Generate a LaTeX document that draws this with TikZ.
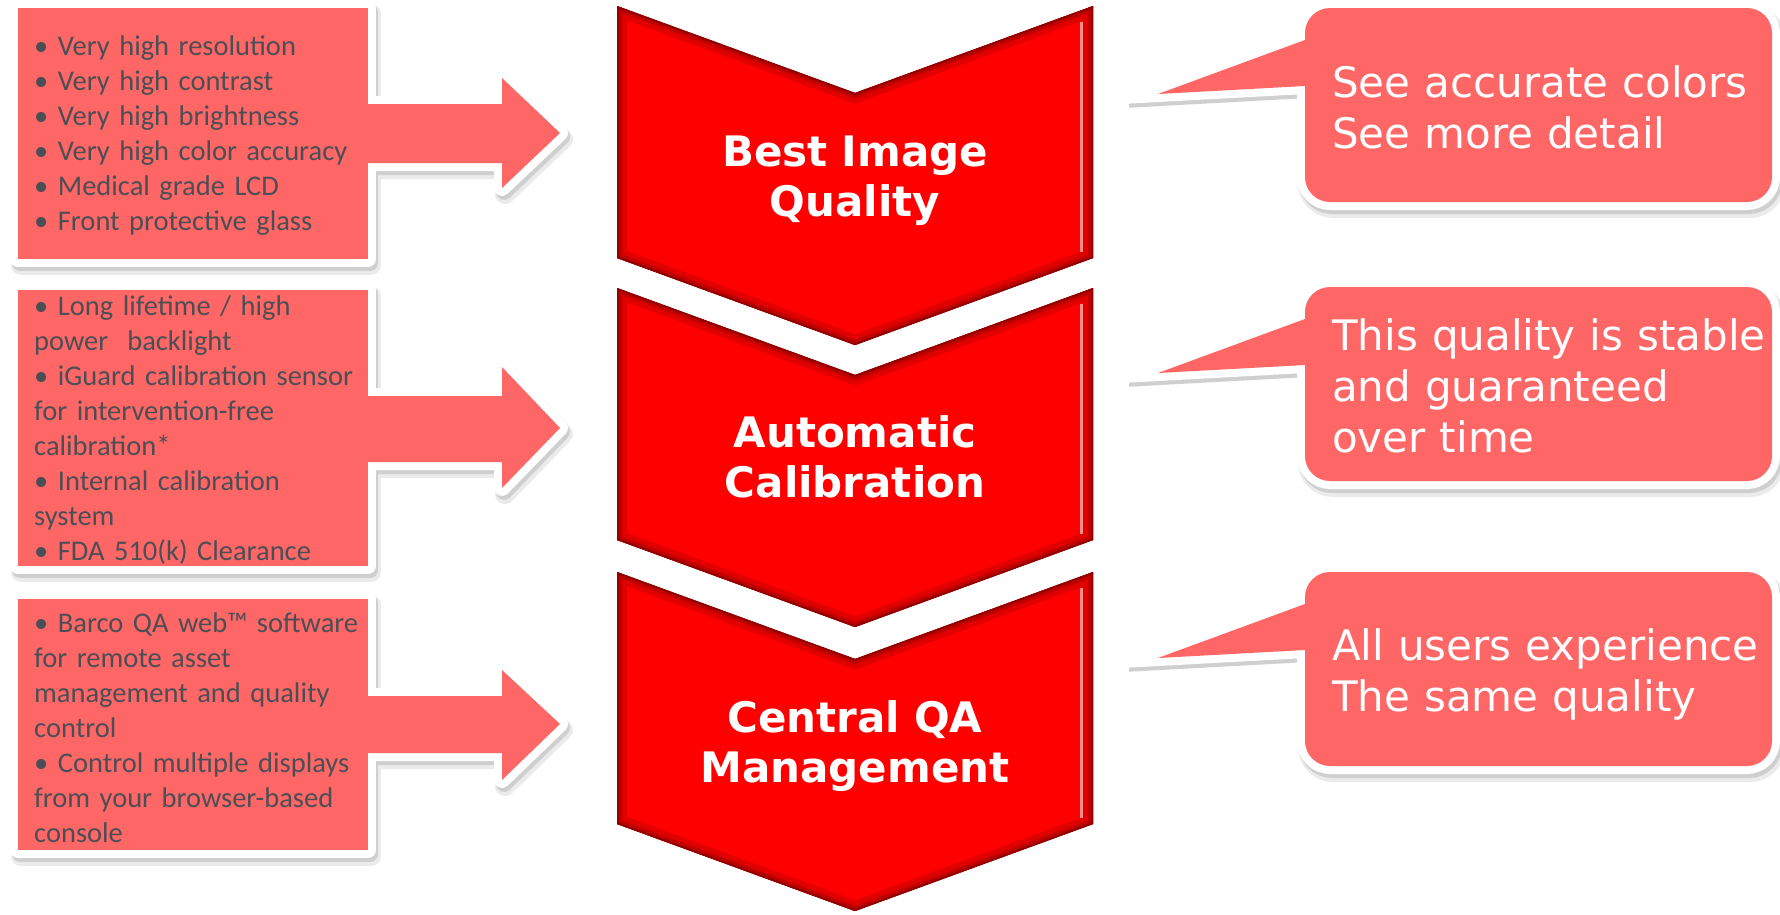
\documentclass[tikz,border=0pt]{standalone}
\usepackage{fontspec}
\setmainfont{DejaVu Sans}
\newfontfamily\calfont{Carlito}
\newfontfamily\dvfont{DejaVu Sans}
\definecolor{callred}{HTML}{FF6666}
\definecolor{chevred}{HTML}{FF0000}
\definecolor{txtgray}{HTML}{4B4F55}
\definecolor{bevmid}{HTML}{E00000}
\definecolor{bevdeep}{HTML}{C00000}
\definecolor{bevdark}{HTML}{900000}
\definecolor{shadowlight}{HTML}{EBEBEB}
\definecolor{shadowdark}{HTML}{CFCFCF}
\newcommand\chevpath[1]{(617,#1) -- (855,#1+87) -- (1093,#1) -- (1093,#1+252) -- (855,#1+339) -- (617,#1+252) -- cycle}
\begin{document}
\begin{tikzpicture}[x=1pt,y=-1pt,
  whiteedge/.style={draw=white, line width=16pt, line join=round},
  shadeA/.style={draw=shadowlight, fill=shadowlight, line width=20pt, line join=round, shift={(3,6)}},
  shadeB/.style={draw=shadowdark, fill=shadowdark, line width=16pt, line join=round, shift={(2,4)}},
  leftnote/.style={anchor=base west, inner sep=0pt, text width=380pt, align=left, text=txtgray, font=\calfont\fontsize{28.5}{35.1}\selectfont},
  rightnote/.style={anchor=base west, inner sep=0pt, text width=460pt, align=left, text=white, font=\dvfont\fontsize{42}{51}\selectfont},
  chevlabel/.style={anchor=base, inner sep=0pt, text width=460pt, align=center, text=white, font=\dvfont\bfseries\fontsize{42}{50}\selectfont},
]
\useasboundingbox (0,0) rectangle (1780,914);
\fill[white] (0,0) rectangle (1780,914);

% ---------- shadows ----------
\foreach \bt/\bb/\st/\sb/\ht/\ty/\hb in {8/259/104/163/78/133/188, 290/566/396/462/367/428/488, 599/850/696/753/670/724/780} {
  \foreach \sh in {shadeA, shadeB} {
    \path[\sh] (18,\bt) rectangle (368,\bb);
    \path[\sh] (360,\st) -- (502,\st) -- (502,\ht) -- (560,\ty) -- (502,\hb) -- (502,\sb) -- (360,\sb) -- cycle;
  }
}
\foreach \T in {8,287,572} {
  \foreach \sh in {shadeA, shadeB} {
    \path[\sh, rounded corners=25pt] (1305,\T) rectangle (1772,\T+194);
  }
  \fill[shadowdark, shift={(2,4)}] (1302,\T+24.5) -- (1127,\T+89) -- (1127,\T+95.7) -- (1306,\T+86) -- cycle;
}

% ---------- white borders ----------
\foreach \bt/\bb/\st/\sb/\ht/\ty/\hb in {8/259/104/163/78/133/188, 290/566/396/462/367/428/488, 599/850/696/753/670/724/780} {
  \path[whiteedge] (18,\bt) rectangle (368,\bb);
  \path[whiteedge] (360,\st) -- (502,\st) -- (502,\ht) -- (560,\ty) -- (502,\hb) -- (502,\sb) -- (360,\sb) -- cycle;
}
\foreach \T in {8,287,572} {
  \path[whiteedge, rounded corners=25pt] (1305,\T) rectangle (1772,\T+194);
  \fill[white] (1302,\T+24.5) -- (1127,\T+89) -- (1127,\T+95.7) -- (1306,\T+86) -- cycle;
}

% ---------- red fills ----------
\foreach \bt/\bb/\st/\sb/\ht/\ty/\hb in {8/259/104/163/78/133/188, 290/566/396/462/367/428/488, 599/850/696/753/670/724/780} {
  \fill[callred] (18,\bt) rectangle (368,\bb);
  \fill[callred] (360,\st) -- (502,\st) -- (502,\ht) -- (560,\ty) -- (502,\hb) -- (502,\sb) -- (360,\sb) -- cycle;
}
\foreach \T in {8,287,572} {
  \fill[callred, rounded corners=25pt] (1305,\T) rectangle (1772,\T+194);
  \fill[callred] (1312,\T+29.4) -- (1158,\T+86) -- (1312,\T+77.6) -- cycle;
}

% ---------- chevrons ----------
\foreach \y in {6,288,572} {
  \fill[chevred] \chevpath{\y};
  \begin{scope}
    \clip \chevpath{\y};
    \draw[bevmid, line width=20pt] \chevpath{\y};
    \draw[bevdeep, line width=10pt] \chevpath{\y};
    \draw[bevdark, line width=4pt] \chevpath{\y};
    \draw[white, opacity=0.55, line width=3pt] (1081,\y+16) -- (1081,\y+246);
  \end{scope}
}

% ---------- texts ----------
\node[leftnote] (L1) at (34,55) {• Very high resolution\\
• Very high contrast\\
• Very high brightness\\
• Very high color accuracy\\
• Medical grade LCD\\
• Front protective glass};
\node[leftnote] (L2) at (34,315) {• Long lifetime / high\\
power\ \ backlight\\
• iGuard calibration sensor\\
for intervention-free\\
calibration*\\
• Internal calibration\\
system\\
• FDA 510(k) Clearance};
\node[leftnote] (L3) at (34,632) {• Barco QA web™ software\\
for remote asset\\
management and quality\\
control\\
• Control multiple displays\\
from your browser-based\\
console};

\node[chevlabel] (C1) at (855,166) {Best Image\\Quality};
\node[chevlabel] (C2) at (855,447) {Automatic\\Calibration};
\node[chevlabel] (C3) at (855,732) {Central QA\\Management};

\node[rightnote] (R1) at (1332,97) {See accurate colors\\See more detail};
\node[rightnote] (R2) at (1332,350) {This quality is stable\\and guaranteed\\over time};
\node[rightnote] (R3) at (1332,660) {All users experience\\The same quality};
\end{tikzpicture}
\end{document}
